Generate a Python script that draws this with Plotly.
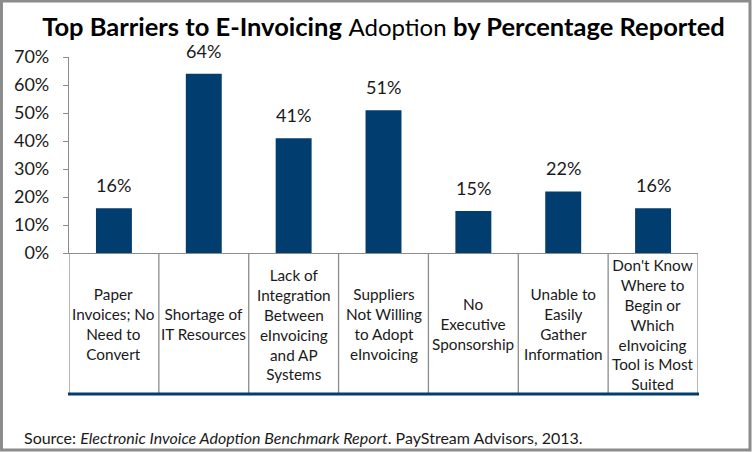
import plotly.graph_objects as go

categories = [
    "Paper<br>Invoices; No<br>Need to<br>Convert",
    "Shortage of<br>IT Resources",
    "Lack of<br>Integration<br>Between<br>eInvoicing<br>and AP<br>Systems",
    "Suppliers<br>Not Willing<br>to Adopt<br>eInvoicing",
    "No<br>Executive<br>Sponsorship",
    "Unable to<br>Easily<br>Gather<br>Information",
    "Don't Know<br>Where to<br>Begin or<br>Which<br>eInvoicing<br>Tool is Most<br>Suited",
]
values = [16, 64, 41, 51, 15, 22, 16]
y_ticks = [0, 10, 20, 30, 40, 50, 60, 70]
y_tick_labels = [f"{v}%" for v in y_ticks]

BAR = "#013D6F"
GRID = "#8C8C8C"
TXT = "#1a1a1a"
FONT = "Lato, Carlito, Calibri, sans-serif"

W, H = 752, 452
L, R, T, B = 69, 54, 57, 199
pw, ph = W - L - R, H - T - B

def px_x(p):
    return (p - L) / pw

def px_y(p):
    return (H - B - p) / ph

xs = list(range(len(values)))

fig = go.Figure()
fig.add_trace(go.Bar(x=xs, y=values, marker_color=BAR, width=0.4,
                     marker_line_width=0, hoverinfo="skip"))

annotations = []
for x, v in zip(xs, values):
    annotations.append(dict(x=x, y=v, xref="x", yref="y", text=f"{v}%",
                            showarrow=False, yanchor="bottom", yshift=10,
                            font=dict(size=18, color=TXT, family=FONT)))
for x, c in zip(xs, categories):
    annotations.append(dict(x=x, y=px_y(324), xref="x", yref="paper", text=c,
                            showarrow=False, yanchor="middle", xanchor="center",
                            align="center",
                            font=dict(size=15.3, color=TXT, family=FONT)))
annotations.append(dict(x=px_x(22), y=px_y(437), xref="paper", yref="paper",
                        xanchor="left", yanchor="middle", showarrow=False,
                        text="Source: <i>Electronic Invoice Adoption Benchmark Report</i>. PayStream Advisors, 2013.",
                        font=dict(size=16, color=TXT, family=FONT)))

shapes = []
for i in range(len(values) + 1):
    shapes.append(dict(type="line", xref="x", yref="paper", x0=i - 0.5, x1=i - 0.5,
                       y0=px_y(395), y1=0, line=dict(color=GRID, width=1.3)))
shapes.append(dict(type="line", xref="paper", yref="paper", x0=px_x(68), x1=px_x(699),
                   y0=px_y(394), y1=px_y(394), line=dict(color=BAR, width=3)))
shapes.append(dict(type="rect", xref="paper", yref="paper",
                   x0=px_x(1.5), x1=px_x(W - 2), y0=px_y(H - 2), y1=px_y(1),
                   line=dict(color=GRID, width=3), fillcolor="rgba(0,0,0,0)", layer="above"))

fig.update_layout(
    width=W, height=H,
    margin=dict(l=L, r=R, t=T, b=B, pad=0),
    paper_bgcolor="white", plot_bgcolor="white",
    showlegend=False,
    title=dict(text="<b>Top Barriers to E-Invoicing</b> <span style='font-size:24px'>Adoption</span> <b>by Percentage Reported</b>",
               x=0.5, xref="paper", xanchor="center", y=1 - 27 / H, yanchor="middle",
               font=dict(size=25.5, color="#000", family=FONT)),
    xaxis=dict(range=[-0.5, len(values) - 0.5], showticklabels=False, showgrid=False,
               zeroline=False, showline=True, linecolor=GRID, linewidth=1.3, ticks="",
               fixedrange=True),
    yaxis=dict(range=[0, 70], tickvals=y_ticks, ticktext=y_tick_labels, showgrid=False,
               zeroline=False, showline=True, linecolor=GRID, linewidth=1.3,
               ticks="outside", ticklen=5, tickcolor=GRID, tickwidth=1.3,
               ticklabelstandoff=10,
               tickfont=dict(size=18, color=TXT, family=FONT), fixedrange=True),
    annotations=annotations,
    shapes=shapes,
    bargap=0.6,
)

fig.write_html("out.html")
